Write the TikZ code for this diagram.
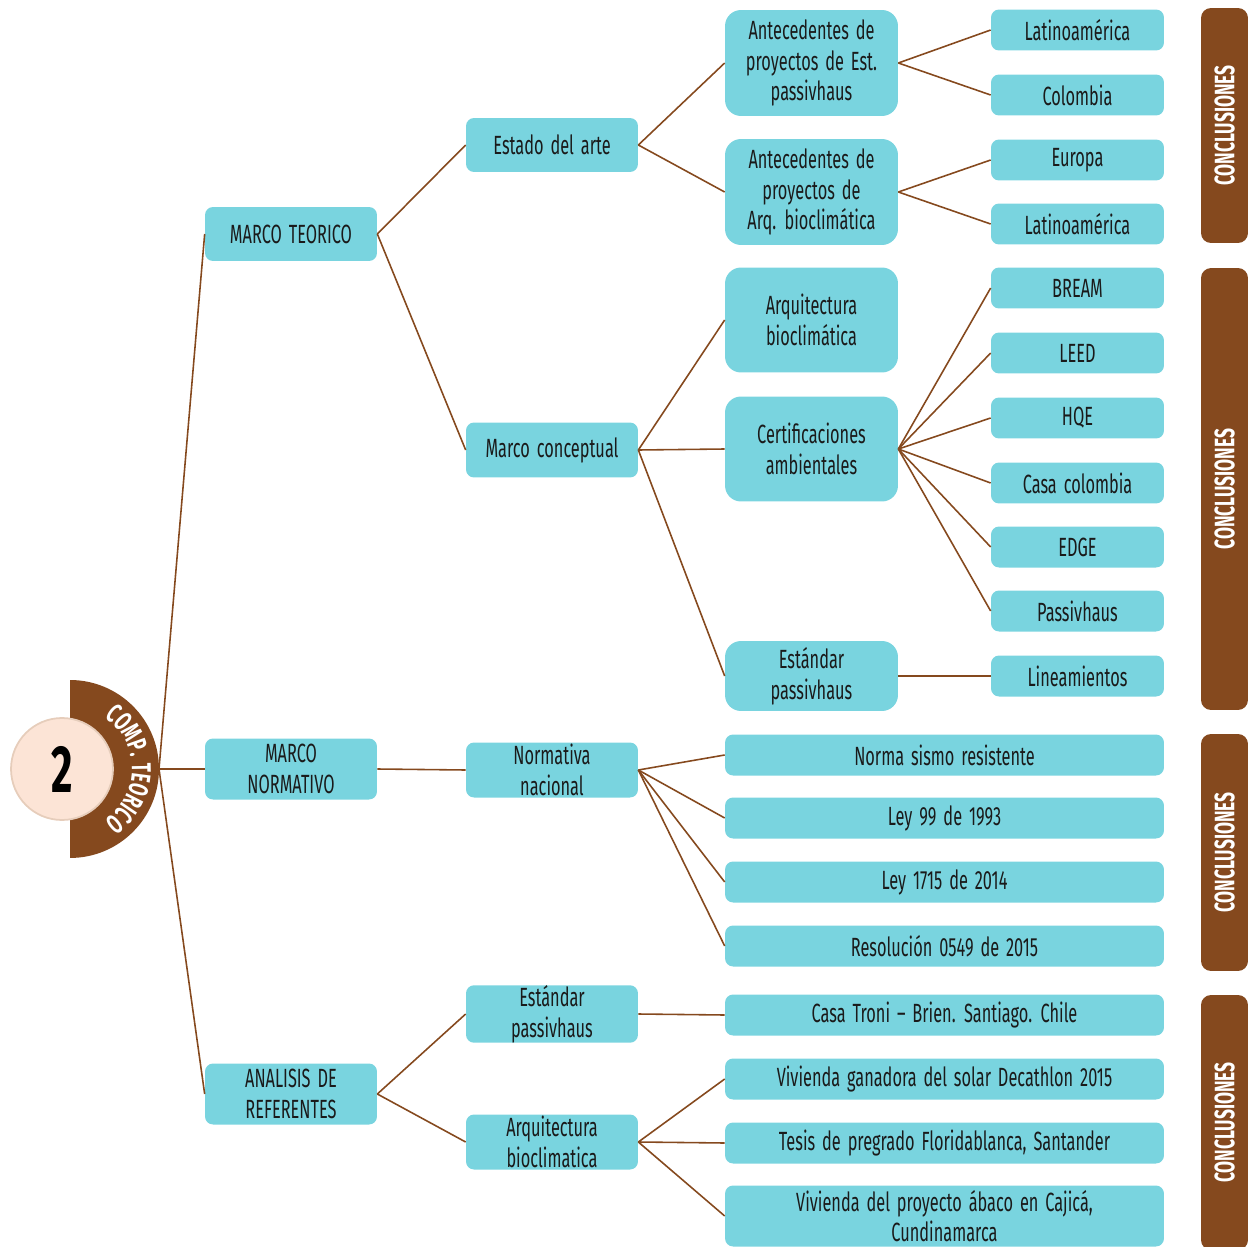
\documentclass[tikz,border=0pt]{standalone}
\usepackage{fontspec}
\setmainfont[FakeStretch=0.62, WordSpace=1.6]{Fira Sans}
\usetikzlibrary{positioning, decorations.text}

\definecolor{cajacolor}{HTML}{79D4DF}
\definecolor{marron}{HTML}{85491E}
\definecolor{durazno}{HTML}{FCE4D6}
\definecolor{borde}{HTML}{E6CDBB}
\definecolor{texto}{HTML}{1A1A1A}

\tikzset{
	caja/.style={fill=cajacolor, rounded corners=0.16cm, align=center, inner sep=0pt,
		text=texto, font=\fontsize{15}{17.5}\selectfont, minimum width=3.44cm},
	cajagrande/.style={caja, rounded corners=0.32cm, minimum width=3.46cm},
	cajaancha/.style={caja, minimum width=8.78cm, minimum height=0.82cm},
	hoja/.style={caja, minimum width=3.46cm, minimum height=0.82cm},
	barra/.style={fill=marron, rounded corners=0.2cm, rotate=90, text=white,
		font=\bfseries\fontsize{16}{16}\selectfont, minimum height=0.94cm, inner sep=0pt},
	conector/.style={draw=marron, line width=0.9pt}
}

\begin{document}
\begin{tikzpicture}[x=0.02cm, y=0.02cm]
	\useasboundingbox (0,0) rectangle (1248,-1247);

	% semicirculo y circulo
	\fill[marron] (70,-680) arc[start angle=90, end angle=-90, radius=1.78cm] -- cycle;
	\path[decorate, decoration={text along path, text align=center,
		text={|\color{white}\bfseries\fontsize{15.5}{15.5}\selectfont|COMP. TEORICO}}]
		(70,-769) ++(70:1.24cm) arc[start angle=70, end angle=-70, radius=1.24cm];
	\node[circle, fill=durazno, draw=borde, line width=1pt, minimum size=2.04cm, inner sep=0pt,
		font=\bfseries\fontsize{38}{38}\selectfont] (num) at (62,-769) {2};
	\coordinate (raiz) at (159,-769);

	% nivel 1
	\node[caja, minimum height=1.08cm] (mt) at (291,-234) {MARCO TEORICO};
	\node[caja, minimum height=1.22cm] (mn) at (291,-769) {MARCO\\NORMATIVO};
	\node[caja, minimum height=1.22cm] (ar) at (291,-1094) {ANALISIS DE\\REFERENTES};

	% nivel 2
	\node[caja, minimum height=1.08cm] (ea) at (552,-145) {Estado del arte};
	\node[caja, minimum height=1.1cm] (mc) at (552,-450) {Marco conceptual};
	\node[caja, minimum height=1.1cm] (nn) at (552,-770) {Normativa\\nacional};
	\node[caja, minimum height=1.1cm] (ep) at (552,-1014) {Estándar\\passivhaus};
	\node[caja, minimum height=1.1cm] (ab) at (552,-1142) {Arquitectura\\bioclimatica};

	% nivel 3
	\node[cajagrande, minimum height=2.12cm] (aep) at (811.5,-63) {Antecedentes de\\proyectos de Est.\\passivhaus};
	\node[cajagrande, minimum height=2.12cm] (aab) at (811.5,-192) {Antecedentes de\\proyectos de\\Arq. bioclimática};
	\node[cajagrande, minimum height=2.1cm] (arb) at (811.5,-320) {Arquitectura\\bioclimática};
	\node[cajagrande, minimum height=2.1cm] (cam) at (811.5,-449) {Certificaciones\\ambientales};
	\node[cajagrande, minimum height=1.4cm] (esp) at (811.5,-676) {Estándar\\passivhaus};

	\node[cajaancha] (nsr) at (944.5,-755) {Norma sismo resistente};
	\node[cajaancha] (lnn) at (944.5,-818) {Ley 99 de 1993};
	\node[cajaancha] (lmm) at (944.5,-882) {Ley 1715 de 2014};
	\node[cajaancha] (res) at (944.5,-946) {Resolución 0549 de 2015};
	\node[cajaancha] (ctr) at (944.5,-1015) {Casa Troni -- Brien. Santiago. Chile};
	\node[cajaancha] (vgs) at (944.5,-1079) {Vivienda ganadora del solar Decathlon 2015};
	\node[cajaancha] (tes) at (944.5,-1143) {Tesis de pregrado Floridablanca, Santander};
	\node[cajaancha, minimum height=1.22cm] (vpa) at (944.5,-1216) {Vivienda del proyecto ábaco en Cajicá,\\Cundinamarca};

	% nivel 4
	\node[hoja] (lat) at (1077.5,-30) {Latinoamérica};
	\node[hoja] (col) at (1077.5,-95) {Colombia};
	\node[hoja] (eur) at (1077.5,-160) {Europa};
	\node[hoja] (lad) at (1077.5,-224) {Latinoamérica};
	\node[hoja] (bre) at (1077.5,-288) {BREAM};
	\node[hoja] (lee) at (1077.5,-353) {LEED};
	\node[hoja] (hqe) at (1077.5,-418) {HQE};
	\node[hoja] (cas) at (1077.5,-483) {Casa colombia};
	\node[hoja] (edg) at (1077.5,-547) {EDGE};
	\node[hoja] (pas) at (1077.5,-611) {Passivhaus};
	\node[hoja] (lin) at (1077.5,-676) {Lineamientos};

	% conclusiones
	\node[barra, minimum width=4.7cm] (cu) at (1224.5,-125.5) {CONCLUSIONES};
	\node[barra, minimum width=8.84cm] (cd) at (1224.5,-489) {CONCLUSIONES};
	\node[barra, minimum width=4.74cm] (ct) at (1224.5,-852.5) {CONCLUSIONES};
	\node[barra, minimum width=5.1cm] (cc) at (1224.5,-1122.5) {CONCLUSIONES};

	% conectores
	\foreach \b in {mt, mn, ar}
		\draw[conector] (raiz) -- (\b.west);
	\foreach \a/\b in {mt/ea, mt/mc, ea/aep, ea/aab, aep/lat, aep/col, aab/eur, aab/lad,
		mc/arb, mc/cam, mc/esp, cam/bre, cam/lee, cam/hqe, cam/cas, cam/edg, cam/pas, esp/lin,
		mn/nn, nn/nsr, nn/lnn, nn/lmm, nn/res, ar/ep, ar/ab, ep/ctr, ab/vgs, ab/tes, ab/vpa}
		\draw[conector] (\a.east) -- (\b.west);
\end{tikzpicture}
\end{document}
